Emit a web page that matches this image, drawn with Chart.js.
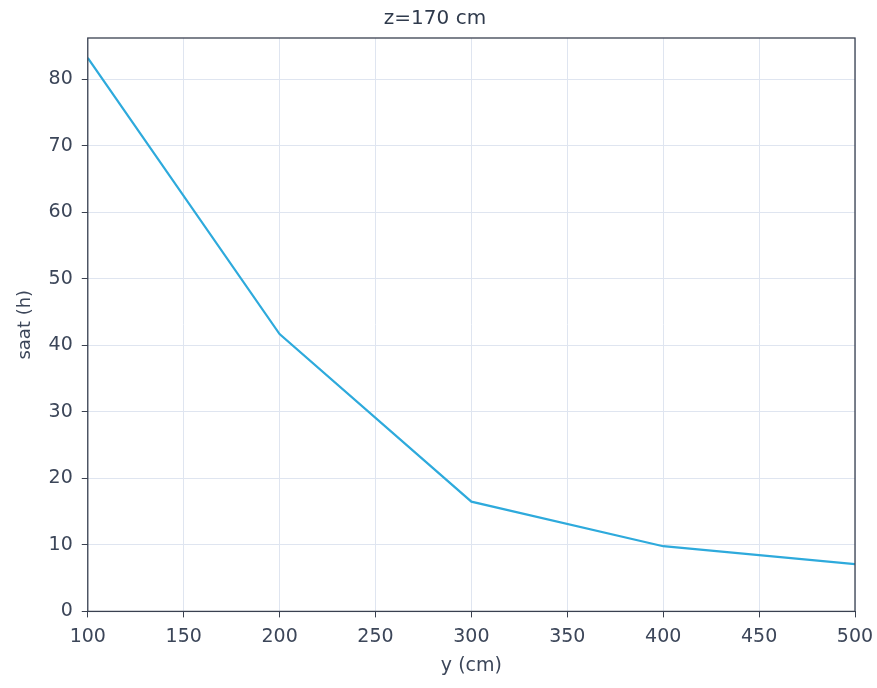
<!DOCTYPE html>
<html><head><meta charset="utf-8">
<script src="https://cdn.jsdelivr.net/npm/chart.js@4"></script>
<style>html,body{margin:0;padding:0;background:#fff}#wrap{width:877px;height:688px}</style>
</head><body><div id="wrap"><canvas id="c" width="877" height="688"></canvas></div>
<script>
const titleText = "z=170 cm";
const xLabel = "y (cm)";
const yLabel = "saat (h)";
const yValues = [100, 200, 300, 400, 500];
const hours = [83.2, 41.7, 16.5, 9.8, 7.1];

const frame = {
  id: 'frame',
  afterDraw(chart) {
    const a = chart.chartArea, ctx = chart.ctx;
    ctx.save();
    ctx.strokeStyle = '#3a4150';
    ctx.lineWidth = 1.3;
    ctx.strokeRect(a.left, a.top, a.right - a.left, a.bottom - a.top);
    ctx.restore();
  }
};

const font = {family: 'DejaVu Sans', size: 19};
new Chart(document.getElementById('c'), {
  type: 'line',
  data: {
    datasets: [{
      data: yValues.map((x, i) => ({x: x, y: hours[i]})),
      borderColor: '#2eaadc',
      borderWidth: 2.2,
      pointRadius: 0,
      tension: 0,
      fill: false
    }]
  },
  options: {
    responsive: false,
    animation: false,
    layout: {padding: {left: 15, right: 22, top: 4, bottom: 11}},
    plugins: {
      legend: {display: false},
      tooltip: {enabled: false},
      title: {display: true, text: titleText, color: '#2f3a4c', font: {family: 'DejaVu Sans', size: 20, weight: 'normal'}, padding: {top: 3, bottom: 7}}
    },
    scales: {
      x: {
        type: 'linear', min: 100, max: 500,
        afterFit(axis) { axis.paddingRight = 0; },
        ticks: {stepSize: 50, color: '#3c4659', font: font, padding: 8, maxRotation: 0},
        grid: {color: '#dfe5f0', tickColor: '#3a4150', tickLength: 6, lineWidth: 1},
        border: {display: false},
        title: {display: true, text: xLabel, color: '#3c4659', font: {family: 'DejaVu Sans', size: 19}, padding: {top: -2, bottom: 0}}
      },
      y: {
        type: 'linear', min: 0, max: 86.2,
        afterBuildTicks(axis) { axis.ticks = axis.ticks.filter(t => t.value % 10 === 0); },
        ticks: {stepSize: 10, color: '#3c4659', font: font, padding: 9},
        grid: {color: '#dfe5f0', tickColor: '#3a4150', tickLength: 6, lineWidth: 1},
        border: {display: false},
        title: {display: true, text: yLabel, color: '#3c4659', font: {family: 'DejaVu Sans', size: 18}, padding: {top: 0, bottom: 3}}
      }
    }
  },
  plugins: [frame]
});
</script></body></html>
